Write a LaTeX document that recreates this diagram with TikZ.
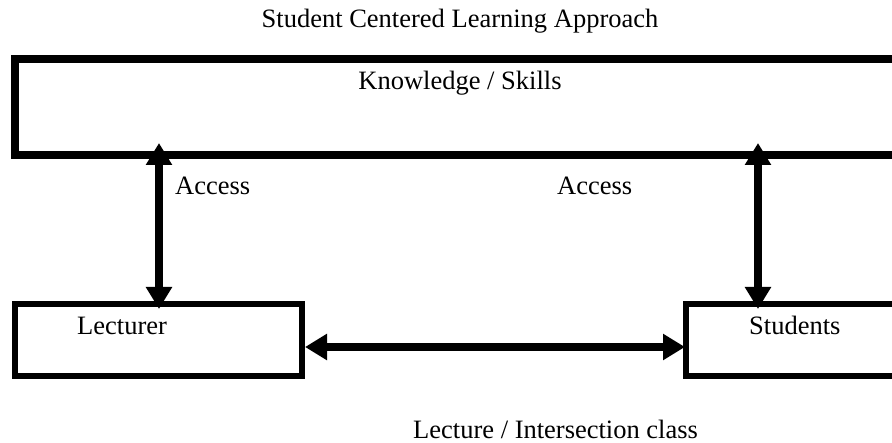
\documentclass[tikz,border=0pt]{standalone}
\usepackage{fontspec}
\setmainfont{Liberation Serif}
\usetikzlibrary{arrows.meta}

\begin{document}
\begin{tikzpicture}[
			x=1pt, y=-1pt,
			txt/.style = {anchor=base west, inner sep=0pt, font=\fontsize{26.5}{30}\selectfont},
			frame/.style = {draw, line width=#1, inner sep=0pt},
			link/.style = {line width=8.5pt, {Triangle[length=22pt,width=25pt]}-{Triangle[length=22pt,width=25pt]}},
			]
			\useasboundingbox (0,0) rectangle (892,443);
			\clip (0,0) rectangle (892,443);
			% boxes
			\node[frame=8pt, minimum width=890pt, minimum height=96pt] (kbox) at (460,107) {};
			\node[frame=6pt, minimum width=287.5pt, minimum height=72pt] (lect) at (158.25,340) {};
			\node[frame=6pt, minimum width=234pt, minimum height=72pt] (stud) at (803,340) {};
			% texts
			\node[txt, anchor=base] (title) at (460,28) {Student Centered Learning Approach};
			\node[txt, anchor=base] (ktext) at (460,90) {Knowledge / Skills};
			\node[txt] (lacc) at (175,195) {Access};
			\node[txt] (racc) at (557,195) {Access};
			\node[txt] (ltext) at (77,335) {Lecturer};
			\node[txt] (stext) at (749,335) {Students};
			\node[txt] (ctext) at (413,439) {Lecture / Intersection class};
			% connectors
			\coordinate (la) at (159,0);
			\coordinate (ra) at (758,0);
			\coordinate (ha) at (0,347);
			\draw[link, shorten <=-16pt, shorten >=-8pt] (kbox.south -| la) -- (lect.north -| la);
			\draw[link, shorten <=-16pt, shorten >=-8pt] (kbox.south -| ra) -- (stud.north -| ra);
			\draw[link, shorten >=-2pt] (lect.east |- ha) -- (stud.west |- ha);
		\end{tikzpicture}
\end{document}
